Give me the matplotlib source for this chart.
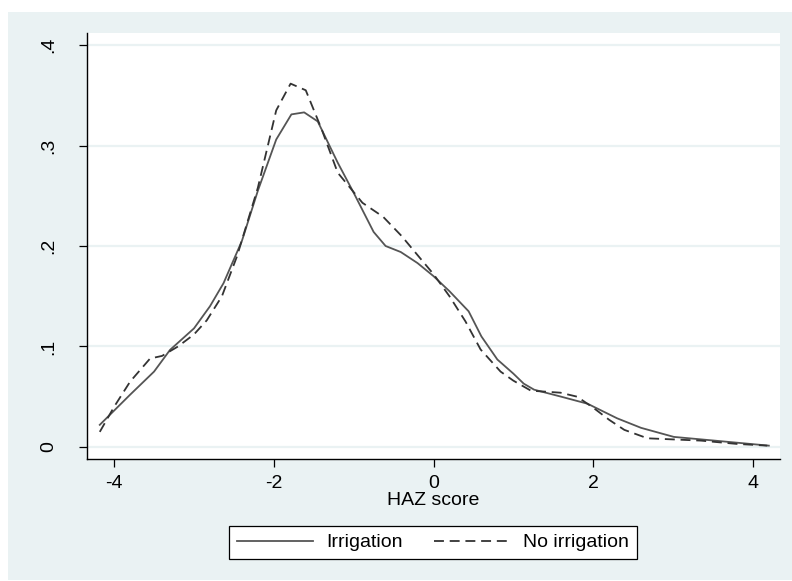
import numpy as np
import matplotlib
matplotlib.use("Agg")
import matplotlib.pyplot as plt
from matplotlib.patches import Rectangle

plt.rcParams['font.family'] = ['Liberation Sans', 'DejaVu Sans']
plt.rcParams['axes.unicode_minus'] = False

# kernel density estimates
irr_x = [-4.18, -3.8, -3.5, -3.3, -3.0, -2.8, -2.63, -2.4, -2.2, -1.97, -1.78, -1.62,
         -1.45, -1.2, -1.0, -0.75, -0.6, -0.41, -0.2, 0.0, 0.2, 0.44, 0.6, 0.8, 1.0,
         1.13, 1.26, 1.6, 1.93, 2.3, 2.6, 3.01, 3.52, 4.2]
irr_y = [0.022, 0.052, 0.075, 0.0966, 0.118, 0.14, 0.163, 0.205, 0.255, 0.306, 0.331, 0.333,
         0.324, 0.283, 0.253, 0.214, 0.200, 0.194, 0.183, 0.170, 0.155, 0.135, 0.110, 0.087, 0.073,
         0.063, 0.057, 0.050, 0.043, 0.0285, 0.019, 0.010, 0.0063, 0.0013]

noirr_x = [-4.18, -4.0, -3.8, -3.55, -3.4, -3.2, -3.0, -2.84, -2.65, -2.46, -2.2, -1.97,
           -1.79, -1.6, -1.4, -1.2, -0.89, -0.63, -0.4, -0.19, 0.0, 0.2, 0.4, 0.59, 0.84,
           1.0, 1.22, 1.59, 1.8, 2.01, 2.2, 2.39, 2.68, 3.0, 3.35, 3.8, 4.18]
noirr_y = [0.015, 0.04, 0.065, 0.088, 0.0906, 0.100, 0.112, 0.126, 0.150, 0.190, 0.258, 0.335,
           0.3616, 0.355, 0.316, 0.273, 0.243, 0.229, 0.210, 0.190, 0.172, 0.150, 0.125, 0.097, 0.075,
           0.066, 0.056, 0.054, 0.050, 0.0385, 0.027, 0.017, 0.0086, 0.0075, 0.0063, 0.003, 0.0013]

xticks = [-4, -2, 0, 2, 4]
yticks = [0, 0.1, 0.2, 0.3, 0.4]
ylabels = ["0", ".1", ".2", ".3", ".4"]

bg = "#EAF2F3"
W, H = 792, 581
fig = plt.figure(figsize=(W/100, H/100), dpi=100, facecolor="white")
fig.patches.append(Rectangle((8/W, 1/H), 784/W, 568/H, transform=fig.transFigure,
                             facecolor=bg, edgecolor="none", zorder=-10))

ax = fig.add_axes([87/W, (H-459)/H, (780-87)/W, (459-33)/H])
ax.set_facecolor("white")

ax.plot(irr_x, irr_y, color="#555555", lw=1.3, label="Irrigation")
ax.plot(noirr_x, noirr_y, color="#333333", lw=1.3, linestyle=(0, (5.5, 3.2)), label="No irrigation")

ax.set_xlim(-4.34, 4.34)
ax.set_ylim(-0.012, 0.412)
ax.set_xticks(xticks)
ax.set_yticks(yticks)
ax.set_yticklabels(ylabels, rotation=90, va="center")
ax.grid(axis="y", color=bg, lw=1.6)
ax.set_axisbelow(True)
for s in ["top", "right"]:
    ax.spines[s].set_visible(False)
for s in ["left", "bottom"]:
    ax.spines[s].set_color("black")
    ax.spines[s].set_linewidth(1.0)
ax.tick_params(axis="both", direction="out", length=5.5, width=0.9, labelsize=14, colors="black")
ax.tick_params(axis="x", pad=6)
ax.tick_params(axis="y", pad=16)
ax.set_xlabel("HAZ score", fontsize=14, labelpad=0)

leg = fig.legend(loc="center", bbox_to_anchor=(433/W, (H-542.5)/H), ncol=2, fontsize=14,
                 frameon=True, fancybox=False, edgecolor="black", framealpha=1,
                 handlelength=3.9, handletextpad=0.7, columnspacing=1.6, borderpad=0.4)
leg.get_frame().set_linewidth(0.9)

fig.savefig("out.png", dpi=100, facecolor="white")
